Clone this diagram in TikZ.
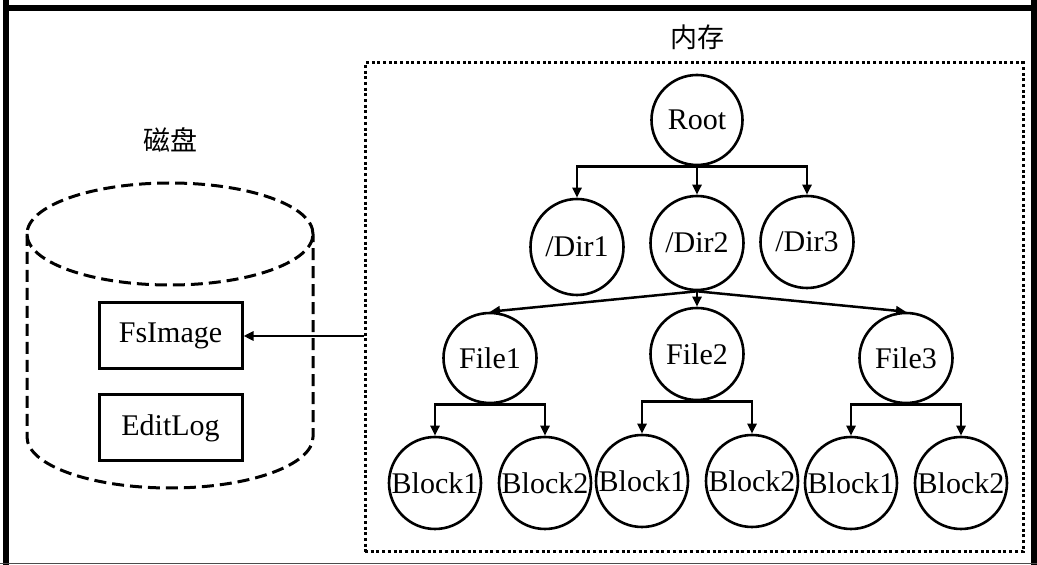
\documentclass[tikz,border=0pt]{standalone}
\usepackage{fontspec}
\setmainfont{Liberation Serif}
\newfontfamily\cjk{Noto Sans CJK SC}
\usetikzlibrary{arrows.meta,shapes.geometric,positioning}
\begin{document}
\begin{tikzpicture}[x=1pt,y=1pt,
  ell/.style={draw,ellipse,line width=2.6pt,inner sep=0pt,minimum width=92pt,minimum height=92pt,font=\fontsize{30}{32}\selectfont},
  conn/.style={line width=2.5pt,-{Triangle[length=10pt,width=9pt]}},
  plainline/.style={line width=2.5pt},
  box/.style={draw,rectangle,line width=3pt,minimum width=143pt,minimum height=66pt,inner sep=0pt,font=\fontsize{30}{32}\selectfont},
  lab/.style={font=\cjk\fontsize{27}{30}\selectfont,inner sep=0pt},
  cyl/.style={line width=3pt,dash pattern=on 12pt off 6pt}
]
\useasboundingbox (0,0) rectangle (1037,565);
% outer frame
\draw[line width=6.5pt] (6,565) -- (6,557) -- (1034,557) -- (1034,565);
\draw[line width=6.5pt] (6,557) -- (6,0);
\draw[line width=6.5pt] (1034,557) -- (1034,0);
\draw[line width=1pt,black!70] (0,1.5) -- (1037,1.5);
% labels
\node[lab] (cipan) at (170,425) {磁盘};
\node[lab] (neicun) at (697,528) {内存};
% memory box
\node[draw,rectangle,line width=3pt,dash pattern=on 3pt off 2.7pt,minimum width=658pt,minimum height=489pt,inner sep=0pt] (mem) at (694,257.5) {};
% cylinder
\draw[cyl] (170,331) ellipse [x radius=143pt,y radius=51pt];
\draw[cyl] (27,331) -- (27,128) arc[start angle=180,end angle=360,x radius=143pt,y radius=51pt] -- (313,331);
\node[box] (fs) at (170.5,229) {FsImage};
\node[box] (el) at (170.5,137) {EditLog};
\draw[conn] (mem.west |- fs.east) -- (fs.east);
% tree
\node[ell,minimum width=91pt,minimum height=90pt] (root) at (697,445) {\makebox[0pt]{Root}};
\node[ell,minimum width=93pt,minimum height=96pt] (d1) at (577,318) {\makebox[0pt]{/Dir1}};
\node[ell,minimum width=93pt,minimum height=94pt] (d2) at (697,322) {\makebox[0pt]{/Dir2}};
\node[ell,minimum width=93pt,minimum height=92pt] (d3) at (807,323) {\makebox[0pt]{/Dir3}};
\node[ell,minimum width=93pt,minimum height=90pt] (f1) at (490,207) {\makebox[0pt]{File1}};
\node[ell,minimum width=93pt,minimum height=92pt] (f2) at (697,211) {\makebox[0pt]{File2}};
\node[ell,minimum width=93pt,minimum height=90pt] (f3) at (906,207) {\makebox[0pt]{File3}};
\node[ell] (b1) at (435,82) {\makebox[0pt]{Block1}};
\node[ell] (b2) at (545,82) {\makebox[0pt]{Block2}};
\node[ell] (b3) at (642,84) {\makebox[0pt]{Block1}};
\node[ell] (b4) at (752,84) {\makebox[0pt]{Block2}};
\node[ell] (b5) at (851,82) {\makebox[0pt]{Block1}};
\node[ell] (b6) at (961,82) {\makebox[0pt]{Block2}};
% root connectors
\draw[conn] (root.south) -| (d1.north);
\draw[conn] (root.south) -- (d2.north);
\draw[conn] (root.south) -| (d3.north);
% dir2 connectors
\draw[conn] (d2.south) -- (f1.north);
\draw[conn] (d2.south) -- (f2.north);
\draw[conn] (d2.south) -- (f3.north);
% file connectors
\draw[conn] (f1.south) -| (b1.north);
\draw[conn] (f1.south) -| (b2.north);
\draw[conn] (f2.south) -| (b3.north);
\draw[conn] (f2.south) -| (b4.north);
\draw[conn] (f3.south) -| (b5.north);
\draw[conn] (f3.south) -| (b6.north);
\end{tikzpicture}
\end{document}
